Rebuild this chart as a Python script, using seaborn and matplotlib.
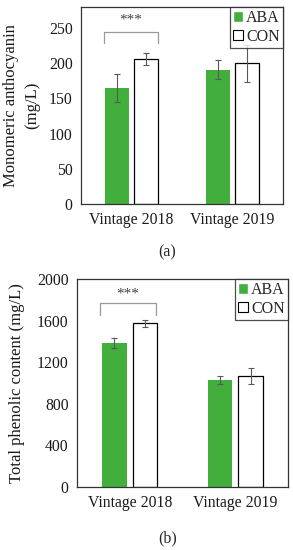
import numpy as np
import pandas as pd
import matplotlib
matplotlib.use("Agg")
import matplotlib.pyplot as plt
import seaborn as sns

categories = ["Vintage 2018", "Vintage 2019"]
treatments = ["ABA", "CON"]

anth_aba = [165, 191]
anth_con = [206, 200]
anth_aba_err = [20, 14]
anth_con_err = [9, 26]

tpc_aba = [1387, 1029]
tpc_con = [1574, 1067]
tpc_aba_err = [50, 42]
tpc_con_err = [32, 74]

anth_ticks = [0, 50, 100, 150, 200, 250]
tpc_ticks = [0, 400, 800, 1200, 1600, 2000]

sns.set_theme(style="white")
plt.rcParams['font.family'] = ['Liberation Serif', 'DejaVu Serif']
plt.rcParams['font.size'] = 11

GREEN = "#42AE3B"
GREY = "#595959"
TXT = "#1a1a1a"

fig = plt.figure(figsize=(2.93, 5.5), dpi=100)
W, H = 293, 550


def px_axes(l, t, r, b):
    return fig.add_axes([l / W, (H - b) / H, (r - l) / W, (b - t) / H])


def panel(ax, aba, con, aba_err, con_err, ticks, ylim, ylabel, bracket, star_y):
    df = pd.DataFrame({
        "Vintage": categories * 2,
        "Treatment": [treatments[0]] * len(categories) + [treatments[1]] * len(categories),
        "Value": list(aba) + list(con),
    })
    sns.barplot(data=df, x="Vintage", y="Value", hue="Treatment", order=categories,
                hue_order=treatments, palette=[GREEN, "white"], width=0.58, gap=0.2,
                errorbar=None, ax=ax, legend=True, saturation=1)
    errs = [aba_err, con_err]
    for ci, cont in enumerate(list(ax.containers)[:2]):
        for bi, bar in enumerate(cont.patches):
            if ci == 1:
                bar.set_edgecolor("black")
                bar.set_linewidth(0.9)
            else:
                bar.set_edgecolor(GREEN)
                bar.set_linewidth(0)
            xc = bar.get_x() + bar.get_width() / 2
            ax.errorbar(xc, bar.get_height(), yerr=errs[ci][bi], fmt="none",
                        ecolor=GREY, elinewidth=0.8, capsize=2.2, capthick=0.8, zorder=5)
    ax.set_xlim(-0.5, 1.5)
    ax.set_ylim(*ylim)
    ax.set_yticks(ticks)
    ax.set_yticklabels([str(t) for t in ticks])
    ax.set_xlabel("")
    ax.set_ylabel(ylabel, fontsize=12, color=TXT, linespacing=1.5)
    ax.tick_params(axis="both", length=0, pad=6, labelsize=11.3, colors=TXT)
    for s in ax.spines.values():
        s.set_visible(True)
        s.set_color("#333333")
        s.set_linewidth(0.9)
    # significance bracket
    x0, x1, ytop, ybot = bracket
    ax.plot([x0, x0, x1, x1], [ybot, ytop, ytop, ybot], color="#999999", lw=0.9)
    ax.text((x0 + x1) / 2, star_y, "***", ha="center", va="center", fontsize=11, color="#444444")
    leg = ax.legend(loc="upper right", frameon=True, fancybox=False, borderaxespad=0,
                    handlelength=0.6, handleheight=0.6, handletextpad=0.2,
                    borderpad=0.2, labelspacing=0.15, fontsize=11.5)
    leg.get_frame().set_edgecolor("#222222")
    leg.get_frame().set_linewidth(0.9)
    for h in leg.legend_handles:
        if h.get_facecolor()[:3] == (1.0, 1.0, 1.0):
            h.set_edgecolor("black")
            h.set_linewidth(0.8)


ax1 = px_axes(81, 7, 283, 204)
panel(ax1, anth_aba, anth_con, anth_aba_err, anth_con_err, anth_ticks, (0, 280),
      "Monomeric anthocyanin\n(mg/L)", (-0.27, 0.26, 244, 229), 262)
ax1.yaxis.set_label_coords(-0.2, 0.5)

ax2 = px_axes(77, 279, 288, 487)
panel(ax2, tpc_aba, tpc_con, tpc_aba_err, tpc_con_err, tpc_ticks, (0, 2000),
      "Total phenolic content (mg/L)", (-0.28, 0.25, 1769, 1654), 1856)
ax2.yaxis.set_label_coords(-0.245, 0.5)

fig.text(167 / W, 1 - 252 / H, "(a)", ha="center", va="center", fontsize=11.5)
fig.text(168 / W, 1 - 538 / H, "(b)", ha="center", va="center", fontsize=11.5)

fig.savefig("out.png", dpi=100)
